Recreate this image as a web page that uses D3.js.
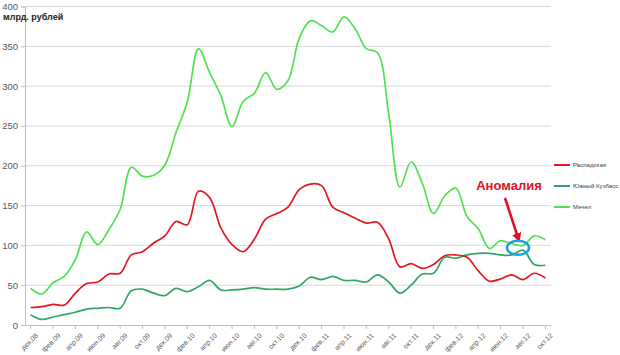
<!DOCTYPE html>
<html><head><meta charset="utf-8">
<script src="https://cdn.jsdelivr.net/npm/d3@7"></script>
<style>body{margin:0;background:#fff}svg{display:block;font-family:Calibri,"Liberation Sans",Arial,sans-serif}</style>
</head><body><svg id="c" width="620" height="355"></svg>
<script>
const months = ["янв","фев","мар","апр","май","июн","июл","авг","сен","окт","ноя","дек"];
const categories = [];
for (let i = 0; i < 47; i++) { const m = (11 + i) % 12; const y = 8 + Math.floor((11 + i) / 12); categories.push(months[m] + "." + String(y).padStart(2, "0")); }
const raspadskaya = [22,23,26,25,40,52,54,64,65,88,92,103,112,130,126,168,160,122,101,92,108,133,140,148,170,177,175,148,141,134,128,129,108,73,77,71,76,87,88,85,68,55,58,63,57,65,59];
const yuzhKuzbass = [13,7,10,13,16,20,21,22,21,43,45,40,37,46,42,48,56,44,44,45,47,45,45,45,49,60,57,61,56,56,54,63,54,40,50,64,65,85,84,88,90,90,88,88,94,76,75];
const mechel = [46,39,53,61,82,117,101,120,145,198,187,188,201,242,280,347,317,288,249,281,291,317,296,307,360,382,376,368,387,372,347,342,265,173,205,178,140,162,172,136,121,96,106,102,100,112,107];
const seriesNames = ["Распадская","Южный Кузбасс","Мечел"];
const seriesColors = ["#e3171f","#2fa865","#4fe24f"];
const yTicks = [0,50,100,150,200,250,300,350,400];

const svg = d3.select("#c");
const L = 25, R = 551, T = 6.5, B = 325;
const x = d3.scaleBand().domain(categories).range([L, R]);
const y = d3.scaleLinear().domain([0, 400]).range([B, T]);
const cx = d => x(d) + x.bandwidth() / 2;

// gridlines
svg.append("g").selectAll("line").data(yTicks.filter(d => d > 0)).join("line")
  .attr("x1", L).attr("x2", R).attr("y1", d => y(d)).attr("y2", d => y(d))
  .attr("stroke", "#d9d9d9").attr("stroke-width", 1);

// y axis
const ya = svg.append("g").attr("transform", `translate(${L},0)`)
  .call(d3.axisLeft(y).tickValues(yTicks).tickSize(4).tickPadding(3));
ya.select(".domain").attr("stroke", "#bfbfbf");
ya.selectAll(".tick line").attr("stroke", "#bfbfbf");
ya.selectAll("text").attr("fill", "#595959").style("font-size", "9.5px").style("font-family", "'Liberation Sans',Arial,sans-serif");

// x axis
const xa = svg.append("g").attr("transform", `translate(0,${B})`)
  .call(d3.axisBottom(x).tickValues(categories.filter((d, i) => i % 2 === 0)).tickSize(4).tickSizeOuter(0));
xa.select(".domain").attr("stroke", "#bfbfbf");
xa.selectAll(".tick line").attr("stroke", "#bfbfbf");
xa.selectAll("text").attr("fill", "#595959").style("font-size", "7px")
  .style("font-family", "'Liberation Sans',Arial,sans-serif")
  .attr("text-anchor", "end").attr("dx", "0").attr("dy", "0")
  .attr("transform", "translate(3,6) rotate(-45)");

// y title
svg.append("text").attr("x", 3).attr("y", 20).text("млрд. рублей")
  .style("font-size", "9px").style("font-weight", "bold").attr("fill", "#222")
  .style("font-family", "'Liberation Sans',Arial,sans-serif");

// lines
const line = d3.line().x((d, i) => cx(categories[i])).y(d => y(d)).curve(d3.curveCatmullRom.alpha(0.5));
const allSeries = [raspadskaya, yuzhKuzbass, mechel];
[2, 1, 0].forEach(k => {
  svg.append("path").attr("d", line(allSeries[k])).attr("fill", "none")
    .attr("stroke", seriesColors[k]).attr("stroke-width", 1.7);
});

// legend
const lg = svg.append("g");
[0, 1, 2].forEach(k => {
  const ly = 165 + k * 21;
  lg.append("line").attr("x1", 554).attr("x2", 570).attr("y1", ly).attr("y2", ly)
    .attr("stroke", seriesColors[k]).attr("stroke-width", 2);
  lg.append("text").attr("x", 573).attr("y", ly + 2.3).text(seriesNames[k])
    .style("font-size", "6.1px").attr("fill", "#404040")
    .style("font-family", "'Liberation Sans',Arial,sans-serif");
});

// annotation
const ax = cx(categories[44]);
svg.append("defs").append("marker").attr("id", "ah").attr("viewBox", "0 0 10 10")
  .attr("refX", 8).attr("refY", 5).attr("markerWidth", 3.6).attr("markerHeight", 3.6).attr("orient", "auto")
  .append("path").attr("d", "M0,0 L10,5 L0,10 z").attr("fill", "#e0102a");
svg.append("text").attr("x", 509).attr("y", 190).attr("text-anchor", "middle").text("Аномалия")
  .style("font-size", "13px").style("font-weight", "bold").attr("fill", "#e0102a")
  .style("font-family", "'Liberation Sans',Arial,sans-serif");
svg.append("line").attr("x1", 505).attr("y1", 198).attr("x2", ax - 4).attr("y2", y(106))
  .attr("stroke", "#e0102a").attr("stroke-width", 2.6).attr("marker-end", "url(#ah)");
svg.append("ellipse").attr("cx", ax - 5).attr("cy", y(97)).attr("rx", 11).attr("ry", 7)
  .attr("fill", "none").attr("stroke", "#1ba0dc").attr("stroke-width", 2.5);
</script></body></html>
